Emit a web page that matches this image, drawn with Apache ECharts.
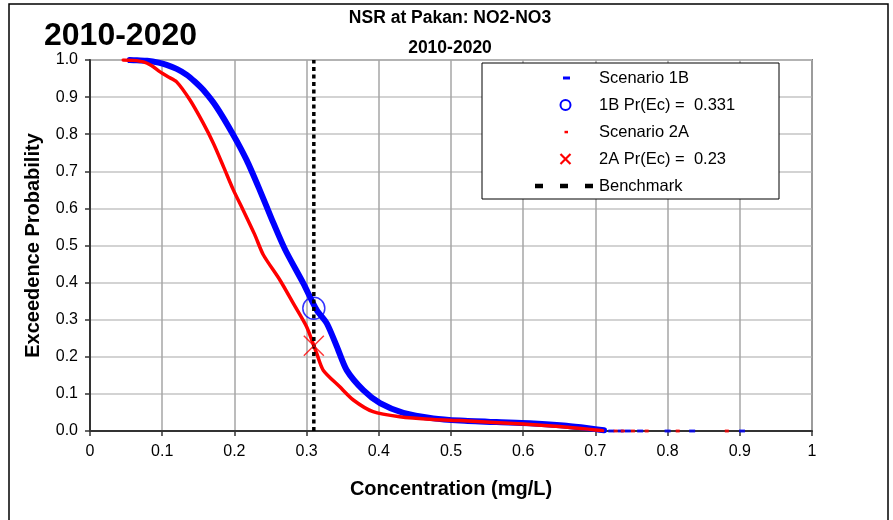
<!DOCTYPE html>
<html>
<head>
<meta charset="utf-8">
<title>NSR at Pakan: NO2-NO3</title>
<script src="https://cdn.jsdelivr.net/npm/echarts@6/dist/echarts.min.js"></script>
<style>
html, body { margin: 0; padding: 0; background: #fff; }
#chart { width: 893px; height: 520px; }
</style>
</head>
<body>
<div id="chart"></div>
<script>
// scenario 1B exceedence curve
var conc1B = [0.055, 0.065, 0.079, 0.095, 0.106, 0.12, 0.134, 0.145, 0.157, 0.175, 0.1985, 0.217, 0.235, 0.252, 0.27, 0.2955, 0.314, 0.328, 0.342, 0.3555, 0.3785, 0.4017, 0.434, 0.4755, 0.5125, 0.563, 0.609, 0.656, 0.68, 0.70, 0.712];
var prob1B = [1.0, 0.999, 0.998, 0.993, 0.987, 0.976, 0.96, 0.942, 0.919, 0.874, 0.798, 0.730, 0.650, 0.570, 0.490, 0.398, 0.326, 0.290, 0.227, 0.164, 0.110, 0.075, 0.049, 0.034, 0.028, 0.024, 0.021, 0.015, 0.010, 0.005, 0.002];
// scenario 2A exceedence curve
var conc2A = [0.046, 0.06, 0.074, 0.085, 0.097, 0.108, 0.12, 0.1385, 0.157, 0.171, 0.185, 0.1985, 0.212, 0.228, 0.24, 0.263, 0.2816, 0.300, 0.314, 0.323, 0.346, 0.3647, 0.392, 0.429, 0.4755, 0.5125, 0.56, 0.60, 0.65, 0.68, 0.70, 0.71];
var prob2A = [1.0, 0.999, 0.995, 0.985, 0.968, 0.955, 0.941, 0.892, 0.829, 0.775, 0.712, 0.650, 0.596, 0.53, 0.475, 0.407, 0.344, 0.281, 0.209, 0.164, 0.119, 0.0835, 0.052, 0.0385, 0.031, 0.028, 0.023, 0.019, 0.012, 0.007, 0.003, 0.001];
// sparse high values sitting on the zero line
var tail1B = [0.722, 0.735, 0.745, 0.762, 0.80, 0.834, 0.903];
var tail2A = [0.728, 0.738, 0.752, 0.771, 0.814, 0.882];

var benchmark = 0.31;
var pr1B = 0.331;
var pr2A = 0.23;

var names = ['Scenario 1B', '1B Pr(Ec) =  ' + pr1B, 'Scenario 2A', '2A Pr(Ec) =  ' + pr2A, 'Benchmark'];

var FONT = '"Liberation Sans", Arial, sans-serif';

function pairs(xs, ys) {
    var out = [];
    for (var i = 0; i < xs.length; i++) {
        out.push([xs[i], ys[i]]);
    }
    return out;
}
function onZero(xs) {
    return xs.map(function (x) { return [x, 0]; });
}

var chart = echarts.init(document.getElementById('chart'), null, { renderer: 'canvas' });

// legend box, drawn by hand to keep the excel look
var legendY = [78, 105, 132, 159, 186];
var legendItems = [
    { type: 'rect', shape: { x: 482, y: 63, width: 297, height: 136 }, style: { fill: '#fff', stroke: '#000', lineWidth: 1 } },
    { type: 'rect', shape: { x: 563, y: legendY[0] - 1.5, width: 7, height: 3 }, style: { fill: '#0000ff' } },
    { type: 'circle', shape: { cx: 565.5, cy: legendY[1], r: 5 }, style: { fill: 'none', stroke: '#0000ff', lineWidth: 2 } },
    { type: 'rect', shape: { x: 564.5, y: legendY[2] - 1.2, width: 3.5, height: 2.5 }, style: { fill: '#ff0000' } },
    { type: 'polyline', shape: { points: [[560.5, legendY[3] - 5], [570.5, legendY[3] + 5]] }, style: { stroke: '#ff0000', lineWidth: 2.2 } },
    { type: 'polyline', shape: { points: [[570.5, legendY[3] - 5], [560.5, legendY[3] + 5]] }, style: { stroke: '#ff0000', lineWidth: 2.2 } },
    { type: 'line', shape: { x1: 535, y1: legendY[4], x2: 593, y2: legendY[4] }, style: { stroke: '#000', lineWidth: 4.5, lineDash: [8, 17] } }
];
names.forEach(function (n, i) {
    legendItems.push({
        type: 'text',
        style: { x: 599, y: legendY[i], text: n, fill: '#000', font: '16.5px ' + FONT, verticalAlign: 'middle' }
    });
});
legendItems.forEach(function (el, i) {
    el.z = 100 + i;
    el.silent = true;
});

var option = {
    animation: false,
    backgroundColor: '#fff',
    title: [{
        text: 'NSR at Pakan: NO2-NO3',
        subtext: '2010-2020',
        left: 450,
        textAlign: 'center',
        top: 9,
        padding: 0,
        itemGap: 12,
        textStyle: { fontSize: 17.5, fontWeight: 'bold', color: '#000', fontFamily: FONT },
        subtextStyle: { fontSize: 17.5, fontWeight: 'bold', color: '#000', fontFamily: FONT }
    }, {
        text: '2010-2020',
        left: 44,
        top: 20,
        padding: 0,
        textStyle: { fontSize: 32, fontWeight: 'bold', color: '#000', fontFamily: FONT }
    }],
    grid: {
        left: 90,
        top: 60,
        right: 81,
        bottom: 89,
        show: true,
        borderColor: '#808080',
        borderWidth: 2,
        outerBoundsMode: 'none'
    },
    xAxis: {
        type: 'value',
        min: 0,
        max: 1,
        interval: 0.1,
        name: 'Concentration (mg/L)',
        nameLocation: 'middle',
        nameGap: 48,
        nameTextStyle: { fontSize: 20, fontWeight: 'bold', color: '#000', fontFamily: FONT },
        axisLine: { show: true, lineStyle: { color: '#333', width: 2 } },
        axisTick: { show: true, length: 5, lineStyle: { color: '#333', width: 1.5 } },
        axisLabel: { margin: 13, fontSize: 16, color: '#000', fontFamily: FONT },
        splitLine: { show: true, lineStyle: { color: '#a6a6a6', width: 1.5 } }
    },
    yAxis: {
        type: 'value',
        min: 0,
        max: 1,
        interval: 0.1,
        name: 'Exceedence Probability',
        nameLocation: 'middle',
        nameGap: 47,
        nameTextStyle: { fontSize: 20, fontWeight: 'bold', color: '#000', fontFamily: FONT },
        axisLine: { show: true, lineStyle: { color: '#333', width: 2 } },
        axisTick: { show: true, length: 5, lineStyle: { color: '#333', width: 1.5 } },
        axisLabel: {
            margin: 12, fontSize: 16, color: '#000', fontFamily: FONT,
            formatter: function (v) { return v.toFixed(1); }
        },
        splitLine: { show: true, lineStyle: { color: '#c4c4c4', width: 1.5 } }
    },
    series: [{
        name: names[0],
        type: 'line',
        data: pairs(conc1B, prob1B),
        showSymbol: false,
        symbol: 'none',
        smooth: 0.25,
        lineStyle: { color: '#0000ff', width: 6, join: 'round', cap: 'round' },
        z: 2
    }, {
        name: names[2],
        type: 'line',
        data: pairs(conc2A, prob2A),
        showSymbol: false,
        symbol: 'none',
        smooth: 0.25,
        lineStyle: { color: '#ff0000', width: 3.5, join: 'round', cap: 'round' },
        z: 3
    }, {
        name: names[0] + ' tail',
        type: 'scatter',
        data: onZero(tail1B),
        symbol: 'rect',
        symbolSize: [6, 3],
        itemStyle: { color: '#0000ff' },
        z: 4
    }, {
        name: names[2] + ' tail',
        type: 'scatter',
        data: onZero(tail2A),
        symbol: 'rect',
        symbolSize: [4, 3],
        itemStyle: { color: '#ff0000' },
        z: 4
    }, {
        name: names[4],
        type: 'line',
        data: [[benchmark, 0], [benchmark, 1]],
        symbol: 'none',
        lineStyle: { color: '#000', width: 3.5, type: [4, 3.5] },
        z: 5
    }, {
        name: names[1],
        type: 'scatter',
        data: [[benchmark, pr1B]],
        symbol: 'circle',
        symbolSize: 22,
        itemStyle: { color: 'transparent', borderColor: '#0000ff', borderWidth: 1.5 },
        z: 6
    }, {
        name: names[3],
        type: 'scatter',
        data: [[benchmark, pr2A]],
        symbol: 'path://M0 0L10 10M10 0L0 10',
        symbolSize: 20,
        itemStyle: { color: 'transparent', borderColor: '#ff0000', borderWidth: 1.5 },
        z: 6
    }],
    graphic: [{
        type: 'rect',
        shape: { x: 9, y: 4, width: 879, height: 540 },
        style: { fill: 'none', stroke: '#000', lineWidth: 1.5 },
        silent: true
    }, {
        type: 'group',
        silent: true,
        children: legendItems
    }]
};

chart.setOption(option);
</script>
</body>
</html>
